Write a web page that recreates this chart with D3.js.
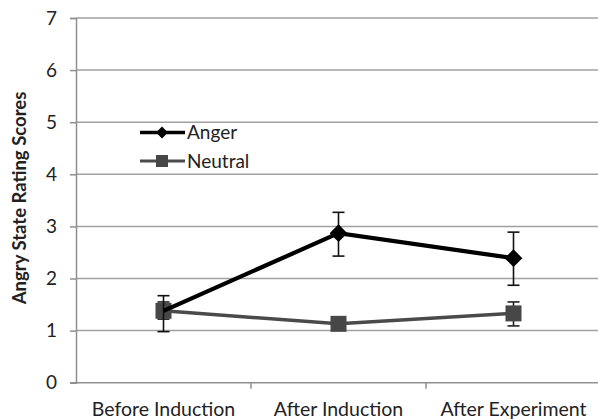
<!DOCTYPE html>
<html><head><meta charset="utf-8">
<script src="https://cdn.jsdelivr.net/npm/d3@7"></script>
<style>html,body{margin:0;padding:0;background:#fff;}svg{display:block;}</style>
</head><body>
<svg id="chart" width="598" height="420"></svg>
<script>
const categories = ["Before Induction", "After Induction", "After Experiment"];
const angerValues = [1.38, 2.87, 2.39];
const angerLow = [0.98, 2.43, 1.87];
const angerHigh = [1.67, 3.27, 2.89];
const neutralValues = [1.38, 1.13, 1.33];
const neutralLow = [1.22, 1.05, 1.09];
const neutralHigh = [1.55, 1.2, 1.55];
const yTicks = [0, 1, 2, 3, 4, 5, 6, 7];
const seriesNames = ["Anger", "Neutral"];

const svg = d3.select("#chart");
const font = "Lato, 'Open Sans', sans-serif";
const x = d3.scaleBand().domain(categories).range([76, 601]);
const y = d3.scaleLinear().domain([0, 7]).range([382.7, 18]);

// gridlines
svg.append("g").selectAll("line").data(yTicks.filter(d => d > 0)).join("line")
  .attr("x1", 76).attr("x2", 598).attr("y1", d => y(d)).attr("y2", d => y(d))
  .attr("stroke", "#a0a0a0").attr("stroke-width", 1.5);

// y axis
const yAxis = svg.append("g").attr("transform", "translate(76,0)")
  .call(d3.axisLeft(y).tickValues(yTicks).tickSize(6).tickPadding(13).tickFormat(d3.format("d")));
yAxis.select(".domain").attr("stroke", "#909090").attr("stroke-width", 1.5);
yAxis.selectAll(".tick line").attr("stroke", "#909090").attr("stroke-width", 1.5);
yAxis.selectAll("text").attr("font-family", font).attr("font-size", 19).attr("fill", "#222");

// x axis
const xAxis = svg.append("g").attr("transform", "translate(0," + y(0) + ")")
  .call(d3.axisBottom(x).tickSize(0).tickPadding(19));
xAxis.select(".domain").attr("stroke", "#909090").attr("stroke-width", 1.5).attr("d", "M70,0H598");
xAxis.selectAll("text").attr("font-family", font).attr("font-size", 19.5).attr("fill", "#222");
svg.append("g").selectAll("line").data(categories.slice(1)).join("line")
  .attr("x1", d => x(d)).attr("x2", d => x(d)).attr("y1", y(0)).attr("y2", y(0) + 6)
  .attr("stroke", "#909090").attr("stroke-width", 1.5);

// y label
svg.append("text").attr("transform", "translate(26," + 198 + ") rotate(-90)")
  .attr("text-anchor", "middle").attr("font-family", font).attr("font-weight", "bold")
  .attr("font-size", 18.5).attr("fill", "#222").text("Angry State Rating Scores");

const cx = d => x(d) + x.bandwidth() / 2;

function errorBars(vals, lo, hi, color) {
  const g = svg.append("g");
  categories.forEach((c, i) => {
    const xx = cx(c);
    g.append("line").attr("x1", xx).attr("x2", xx).attr("y1", y(lo[i])).attr("y2", y(hi[i]))
      .attr("stroke", color).attr("stroke-width", 1.6);
    [lo[i], hi[i]].forEach(v => g.append("line").attr("x1", xx - 6).attr("x2", xx + 6)
      .attr("y1", y(v)).attr("y2", y(v)).attr("stroke", color).attr("stroke-width", 1.6));
  });
}

const line = d3.line().x((d, i) => cx(categories[i])).y(d => y(d));

// Neutral
errorBars(neutralValues, neutralLow, neutralHigh, "#222");
svg.append("path").datum(neutralValues).attr("d", line).attr("fill", "none")
  .attr("stroke", "#4a4a4a").attr("stroke-width", 3.5);
svg.append("g").selectAll("rect").data(neutralValues).join("rect")
  .attr("x", (d, i) => cx(categories[i]) - 8).attr("y", d => y(d) - 8)
  .attr("width", 16).attr("height", 16).attr("fill", "#474747");

// Anger
errorBars(angerValues, angerLow, angerHigh, "#111");
svg.append("path").datum(angerValues).attr("d", line).attr("fill", "none")
  .attr("stroke", "#000").attr("stroke-width", 4.2);
const diamond = d3.symbol().type(d3.symbolDiamond2).size(200);
svg.append("g").selectAll("path").data(angerValues.slice(1)).join("path")
  .attr("transform", (d, i) => "translate(" + cx(categories[i + 1]) + "," + y(d) + ")")
  .attr("d", diamond).attr("fill", "#000");

// legend
const leg = svg.append("g");
seriesNames.forEach((name, i) => {
  const ly = 132.5 + i * 28.5;
  const color = i === 0 ? "#000" : "#4a4a4a";
  leg.append("line").attr("x1", 140).attr("x2", 185).attr("y1", ly).attr("y2", ly)
    .attr("stroke", color).attr("stroke-width", i === 0 ? 3.5 : 3);
  if (i === 0) {
    leg.append("path").attr("transform", "translate(162," + ly + ")")
      .attr("d", d3.symbol().type(d3.symbolDiamond2).size(90)).attr("fill", "#000");
  } else {
    leg.append("rect").attr("x", 156).attr("y", ly - 6).attr("width", 12).attr("height", 12).attr("fill", "#474747");
  }
  leg.append("text").attr("x", 187).attr("y", ly + 6.5).attr("font-family", font)
    .attr("font-size", 19).attr("fill", "#222").text(name);
});
</script>
</body></html>
